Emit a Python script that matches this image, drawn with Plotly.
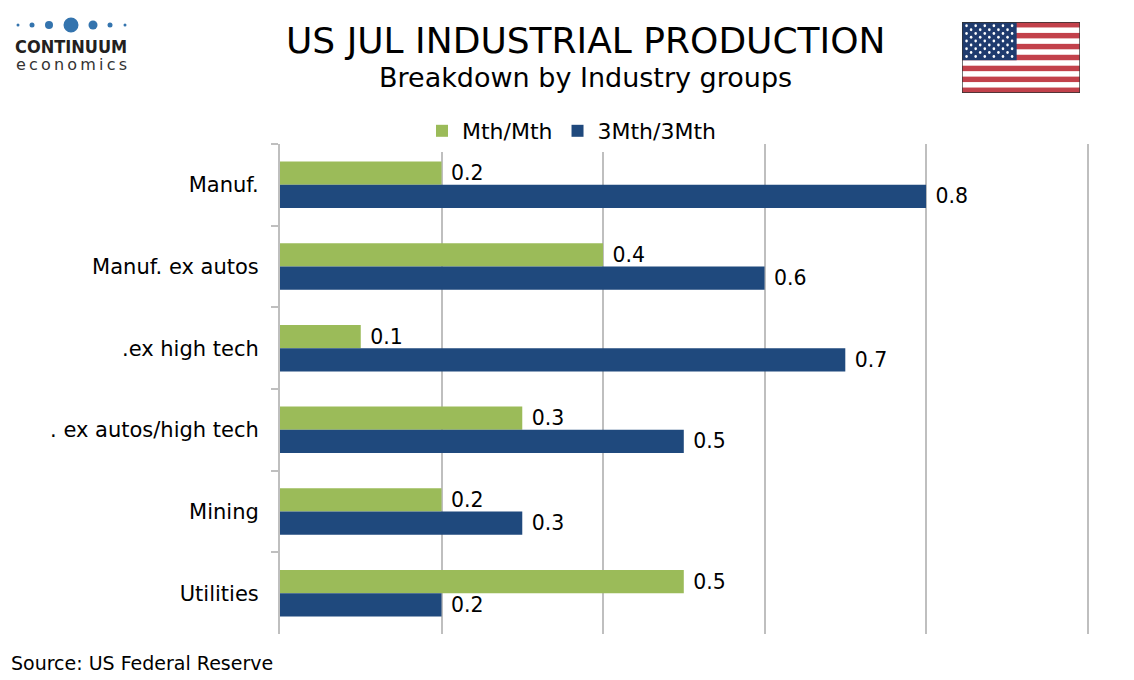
import base64
import plotly.graph_objects as go

# data
categories = ["Manuf.", "Manuf. ex autos", ".ex high tech", ". ex autos/high tech", "Mining", "Utilities"]
mth_mth = [0.2, 0.4, 0.1, 0.3, 0.2, 0.5]
three_mth = [0.8, 0.6, 0.7, 0.5, 0.3, 0.2]
series_names = ["Mth/Mth", "3Mth/3Mth"]

# page body has an 8px margin, so the figure is a bit smaller than the window
OFF = 8
W, H = 1134 - OFF, 680 - OFF
XMAX = 1.003  # a hair past 1.0 so the last gridline is drawn
L, T = 280 - OFF, 144 - OFF
PW = round(808 * XMAX)
PH = 490
R = W - L - PW
B = H - T - PH


def px_x(x):
    # window pixel -> paper x
    return (x - OFF - L) / PW


def px_y(y):
    # window pixel -> paper y
    return (T + PH - (y - OFF)) / PH


FONT = "DejaVu Sans"
GREEN = "#9BBB59"
BLUE = "#1F497D"
GRID = "#BFBFBF"


def flag_uri():
    w, h = 190, 100
    sh = h / 13
    parts = ['<svg xmlns="http://www.w3.org/2000/svg" width="%d" height="%d" viewBox="0 0 %d %d">' % (w, h, w, h),
             '<rect width="%d" height="%d" fill="#ffffff"/>' % (w, h)]
    for i in range(0, 13, 2):
        parts.append('<rect x="0" y="%.2f" width="%d" height="%.2f" fill="#C2414B"/>' % (i * sh, w, sh))
    cw, ch = 88, 7 * sh
    parts.append('<rect x="0" y="0" width="%d" height="%.2f" fill="#1F3B6E"/>' % (cw, ch))
    for r in range(9):
        n = 6 if r % 2 == 0 else 5
        off = 0 if r % 2 == 0 else cw / 12
        for c in range(n):
            sx = cw / 12 + off + c * cw / 6
            sy = ch / 10 * (r + 1)
            parts.append('<circle cx="%.2f" cy="%.2f" r="2.1" fill="#ffffff"/>' % (sx, sy))
    parts.append('<rect x="0.5" y="0.5" width="%d" height="%d" fill="none" stroke="#333333" stroke-width="1.2"/>' % (w - 1, h - 1))
    parts.append('</svg>')
    svg = "".join(parts)
    return "data:image/svg+xml;base64," + base64.b64encode(svg.encode()).decode()


fig = go.Figure()
fig.add_trace(go.Bar(
    y=categories, x=mth_mth, name=series_names[0], orientation="h",
    marker_color=GREEN, marker_line_width=0, texttemplate=" %{x:.1f}", textposition="outside",
    textfont=dict(family=FONT, size=22, color="black"), cliponaxis=False,
))
fig.add_trace(go.Bar(
    y=categories, x=three_mth, name=series_names[1], orientation="h",
    marker_color=BLUE, marker_line_width=0, texttemplate=" %{x:.1f}", textposition="outside",
    textfont=dict(family=FONT, size=22, color="black"), cliponaxis=False,
))

# logo dots
shapes = []
for cx, r in [(18, 1.5), (32, 2.5), (49, 4), (71, 7.5), (93, 4.5), (110, 2.5), (125, 1.5)]:
    shapes.append(dict(type="circle", xref="paper", yref="paper",
                       x0=px_x(cx - r), x1=px_x(cx + r), y0=px_y(25 + r), y1=px_y(25 - r),
                       fillcolor="#3474AE", line_width=0, layer="above"))

annotations = [
    dict(text="US JUL INDUSTRIAL PRODUCTION", x=px_x(585), y=px_y(41), xref="paper", yref="paper",
         showarrow=False, xanchor="center", yanchor="middle",
         font=dict(family=FONT, size=36, color="black")),
    dict(text="Breakdown by Industry groups", x=px_x(585), y=px_y(78), xref="paper", yref="paper",
         showarrow=False, xanchor="center", yanchor="middle",
         font=dict(family=FONT, size=27, color="black")),
    dict(text="Source: US Federal Reserve", x=px_x(9), y=px_y(663), xref="paper", yref="paper",
         showarrow=False, xanchor="left", yanchor="middle",
         font=dict(family=FONT, size=19, color="black")),
    dict(text="<b>CONTINUUM</b>", x=px_x(71), y=px_y(46), xref="paper", yref="paper",
         showarrow=False, xanchor="center", yanchor="middle",
         font=dict(family="DejaVu Sans Condensed, DejaVu Sans", size=18, color="#231F20")),
    dict(text="\u2009".join("economics"), x=px_x(71), y=px_y(64), xref="paper", yref="paper",
         showarrow=False, xanchor="center", yanchor="middle",
         font=dict(family=FONT, size=16, color="#333333")),
]

fig.update_layout(
    width=W, height=H,
    margin=dict(l=L, r=R, t=T, b=B, autoexpand=False),
    paper_bgcolor="white", plot_bgcolor="white",
    barmode="group", bargap=0.43, bargroupgap=0,
    font=dict(family=FONT, color="black"),
    legend=dict(orientation="h", xref="container", yref="container", x=(572 - OFF) / W,
                y=1 - (131 - OFF) / H, xanchor="center", yanchor="middle",
                font=dict(family=FONT, size=22), traceorder="normal"),
    shapes=shapes,
    annotations=annotations,
    images=[dict(source=flag_uri(), xref="paper", yref="paper",
                 x=px_x(962), y=px_y(22), sizex=118 / PW, sizey=71 / PH,
                 xanchor="left", yanchor="top", sizing="stretch", layer="above")],
)
fig.update_xaxes(range=[0, XMAX], dtick=0.2, showgrid=True, gridcolor=GRID, gridwidth=2,
                 showticklabels=False, zeroline=False, showline=False, ticks="")
fig.update_yaxes(autorange="reversed", showline=True, linecolor=GRID, linewidth=2,
                 ticks="outside", tickson="boundaries", ticklen=7, tickcolor=GRID, tickwidth=2,
                 showgrid=False, ticklabelstandoff=15,
                 tickfont=dict(family=FONT, size=21, color="black"))

fig.write_html("out.html")
